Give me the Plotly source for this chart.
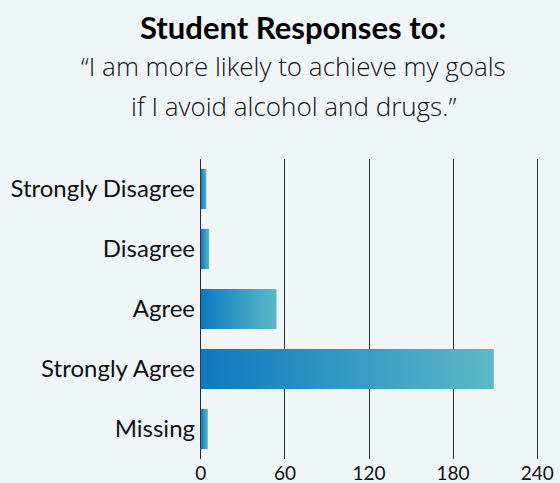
import plotly.graph_objects as go

categories = ["Strongly Disagree", "Disagree", "Agree", "Strongly Agree", "Missing"]
values = [4, 6, 54, 209, 5]
x_ticks = [0, 60, 120, 180, 240]

title = "Student Responses to:"
subtitle_lines = ["\u201cI am more likely to achieve my goals", "if I avoid alcohol and drugs.\u201d"]

FONT = "Lato"
SUB_FONT = "Open Sans"
c_start, c_end = "#0c79bf", "#5db9c7"
half = 0.335

fig = go.Figure()
for i, (cat, v) in enumerate(zip(categories, values)):
    fig.add_trace(go.Scatter(
        x=[0, v, v, 0, 0],
        y=[i - half, i - half, i + half, i + half, i - half],
        mode="lines", line=dict(width=0), fill="toself",
        fillgradient=dict(type="horizontal", colorscale=[[0, c_start], [1, c_end]]),
        hoverinfo="text", text=f"{cat}: {v}", showlegend=False,
    ))

# plot area: 0 -> x=201px, 240 -> x=537px (1.4 px per unit)
x_lo, x_hi = -2, 242
px = 1.4
left = 201 + x_lo * px
right = 560 - (201 + x_hi * px)

def py(p):
    return (459 - p) / 300

def pxp(p):
    return (p - left) / ((x_hi - x_lo) * px)

fig.update_layout(
    width=560, height=483,
    margin=dict(l=left, r=right, t=159, b=24),
    paper_bgcolor="#f0f5f8", plot_bgcolor="rgba(0,0,0,0)",
    font=dict(family=FONT, color="#111111"),
    showlegend=False,
    xaxis=dict(range=[x_lo, x_hi], tickvals=x_ticks, ticktext=[str(t) for t in x_ticks],
               showgrid=True, gridcolor="#2b2b2b", gridwidth=1.4, automargin=False,
               zeroline=False, showline=False, ticks="", ticklabelstandoff=1,
               tickfont=dict(size=19, family=FONT, color="#111111")),
    yaxis=dict(range=[4.5, -0.5], tickvals=list(range(len(categories))), ticktext=categories,
               showgrid=False, zeroline=False, showline=False, ticks="", automargin=False,
               ticklabelstandoff=2,
               tickfont=dict(size=24, family=FONT, color="#111111")),
    annotations=[
        dict(text=f"<b>{title}</b>", xref="paper", yref="paper", x=pxp(293), y=py(27),
             xanchor="center", yanchor="middle", showarrow=False,
             font=dict(size=31, family=FONT, color="#000000")),
        dict(text=subtitle_lines[0], xref="paper", yref="paper", x=pxp(294), y=py(66),
             xanchor="center", yanchor="middle", showarrow=False,
             font=dict(size=26, family=SUB_FONT, color="#111111", weight=300)),
        dict(text=subtitle_lines[1], xref="paper", yref="paper", x=pxp(294), y=py(106),
             xanchor="center", yanchor="middle", showarrow=False,
             font=dict(size=26, family=SUB_FONT, color="#111111", weight=300)),
    ],
)

fig.write_html("out.html")
